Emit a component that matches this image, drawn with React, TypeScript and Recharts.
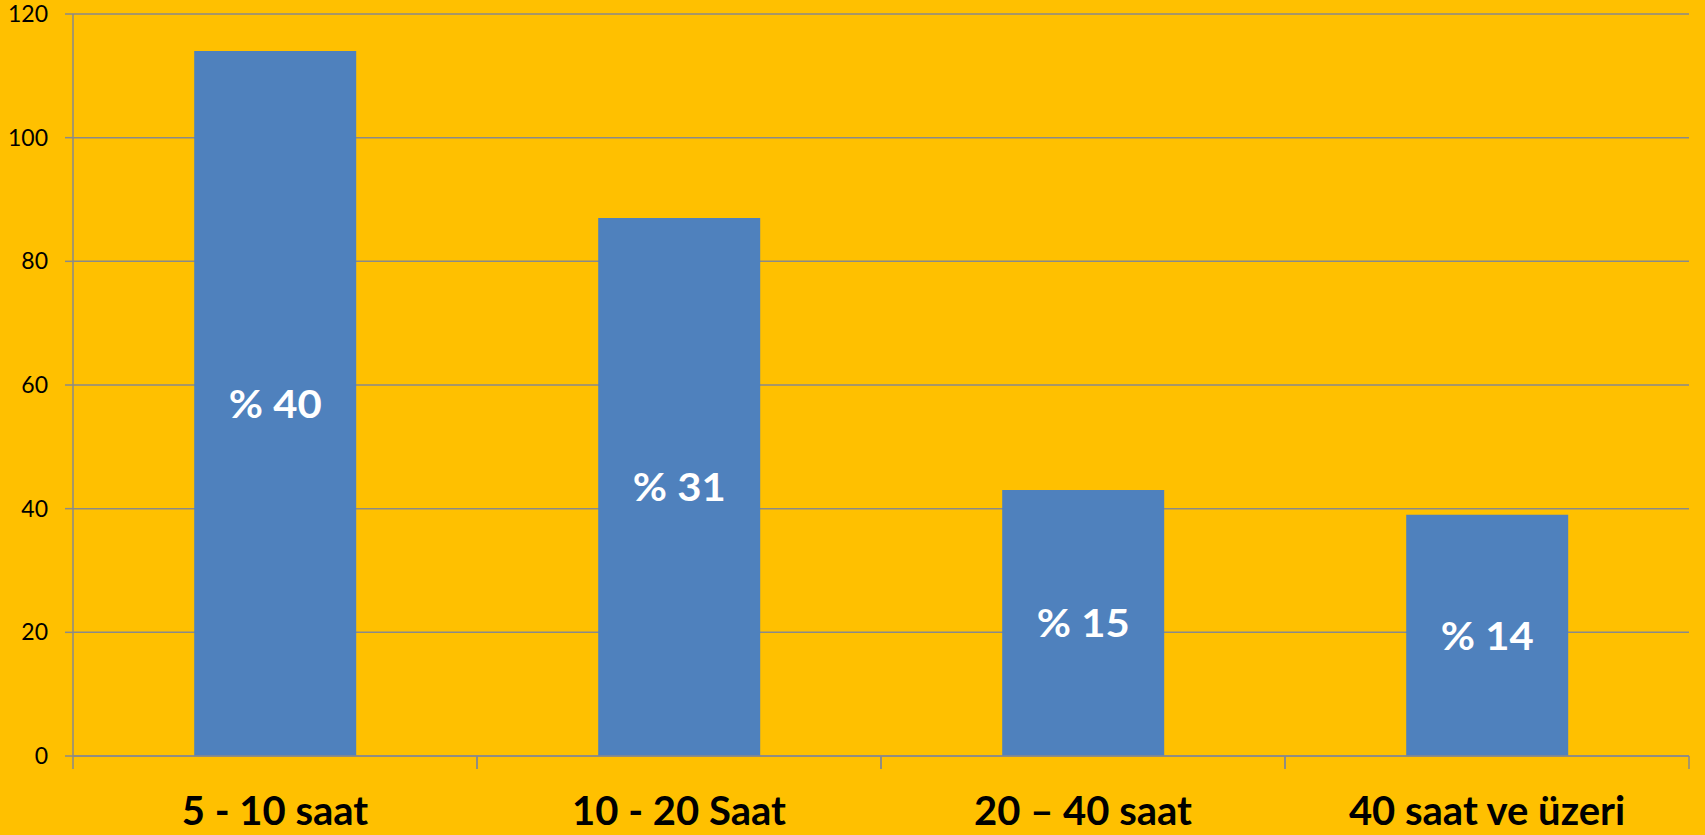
import { BarChart, Bar, XAxis, YAxis, CartesianGrid, LabelList } from 'recharts';

const categories = ['5 - 10 saat', '10 - 20 Saat', '20 – 40 saat', '40 saat ve üzeri'];
const counts = [114, 87, 43, 39];
const shares = ['% 40', '% 31', '% 15', '% 14'];
const yTicks = [0, 20, 40, 60, 80, 100, 120];

const chartData = categories.map((name, i) => ({ name, count: counts[i], share: shares[i] }));

const BG = '#FFC000';
const BAR = '#4F81BD';
const LINE = '#8A8A8A';

// category labels plus tick marks on the band edges (like the office chart)
function CategoryTick({ x, y, payload }: any) {
  const half = payload?.offset ?? 0;
  return (
    <g>
      <line x1={x - half} y1={y} x2={x - half} y2={y + 13} stroke={LINE} strokeWidth={1.5} />
      <line x1={x + half} y1={y} x2={x + half} y2={y + 13} stroke={LINE} strokeWidth={1.5} />
      <text
        x={x}
        y={y + 69}
        textAnchor="middle"
        fill="#000"
        fontFamily="Lato, sans-serif"
        fontWeight={700}
        fontSize={40}
      >
        {payload.value}
      </text>
    </g>
  );
}

function ShareLabel({ x, y, width, height, value }: any) {
  const cx = x + width / 2;
  const cy = y + height / 2;
  return (
    <text
      transform={`translate(${cx} ${cy}) scale(1.1 1)`}
      textAnchor="middle"
      dominantBaseline="central"
      fill="#fff"
      fontFamily="Lato, sans-serif"
      fontWeight={700}
      fontSize={38}
    >
      {value}
    </text>
  );
}

export default function App() {
  return (
    <div style={{ position: 'fixed', left: 0, top: 0, width: 1705, height: 835, background: BG }}>
      <BarChart
        width={1705}
        height={835}
        data={chartData}
        margin={{ top: 14, right: 16, bottom: 0, left: 0 }}
        barCategoryGap="30%"
      >
        <CartesianGrid horizontal vertical={false} stroke={LINE} strokeWidth={1.5} />
        <XAxis
          dataKey="name"
          height={79}
          axisLine={{ stroke: LINE, strokeWidth: 1.5 }}
          tickLine={false}
          tickSize={0}
          tickMargin={0}
          interval={0}
          tick={<CategoryTick />}
        />
        <YAxis
          width={73}
          domain={[0, 120]}
          ticks={yTicks}
          interval={0}
          axisLine={{ stroke: LINE, strokeWidth: 1.5 }}
          tickLine={{ stroke: LINE, strokeWidth: 1.5 }}
          tickSize={8}
          tickMargin={17}
          tick={{ fill: '#000', fontSize: 23, fontFamily: 'Lato, sans-serif' }}
        />
        <Bar dataKey="count" fill={BAR} isAnimationActive={false}>
          <LabelList dataKey="share" content={<ShareLabel />} />
        </Bar>
      </BarChart>
    </div>
  );
}
